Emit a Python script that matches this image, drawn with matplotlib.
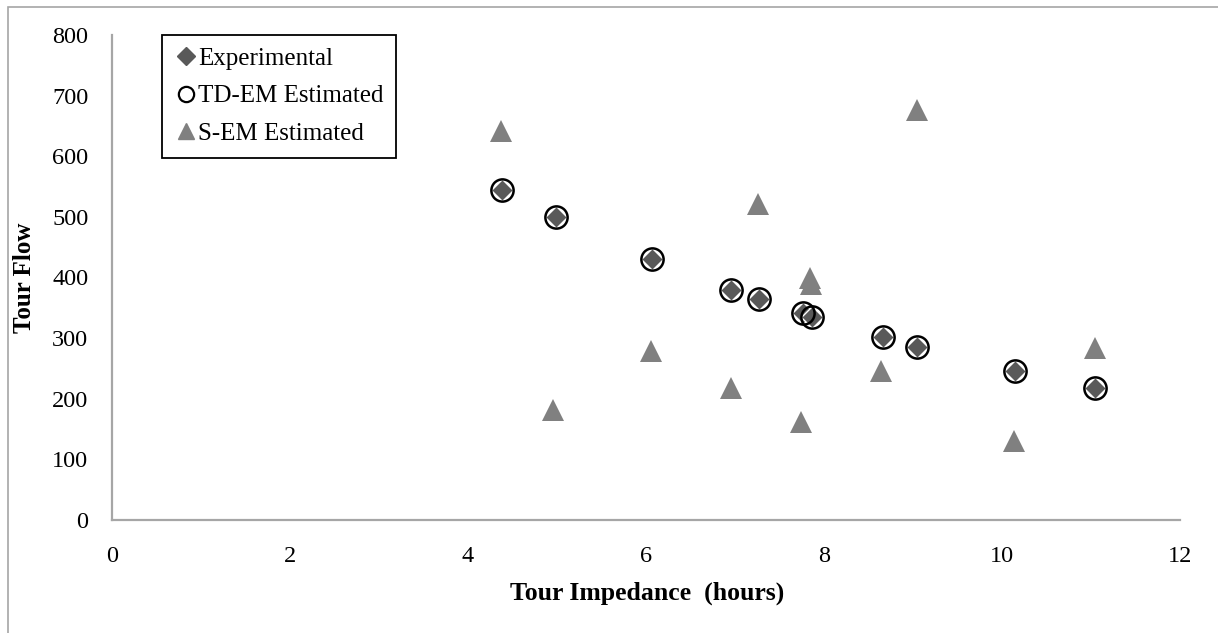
"""Tour flow vs. tour impedance: experimental, TD-EM and S-EM estimates."""

import matplotlib
matplotlib.use("Agg")
import matplotlib.pyplot as plt
from matplotlib.lines import Line2D
from matplotlib.patches import Rectangle

# experimental points (TD-EM estimates sit on top of them)
exp_hours = [4.38, 4.99, 6.07, 6.96, 7.27, 7.76, 7.87, 8.66, 9.05, 10.15, 11.05]
exp_flow = [545, 500, 430, 380, 365, 342, 335, 302, 286, 246, 217]

td_hours = [4.38, 4.99, 6.07, 6.96, 7.27, 7.76, 7.87, 8.66, 9.05, 10.15, 11.05]
td_flow = [545, 500, 430, 380, 365, 342, 335, 302, 286, 246, 217]

sem_hours = [4.37, 4.96, 6.06, 6.95, 7.26, 7.74, 7.84, 7.85, 8.64, 9.04, 10.14, 11.04]
sem_flow = [641, 182, 279, 218, 522, 162, 400, 390, 245, 676, 131, 283]

x_ticks = [0, 2, 4, 6, 8, 10, 12]
y_ticks = [0, 100, 200, 300, 400, 500, 600, 700, 800]

DIAMOND = "#595959"
TRIANGLE = "#808080"
AXIS_GRAY = "#a6a6a6"

plt.rcParams.update({
    "font.family": ["Liberation Serif", "DejaVu Serif"],
    "font.size": 17.5,
})

W, H = 1218, 633
fig = plt.figure(figsize=(W / 100, H / 100), dpi=100)
ax = fig.add_axes([112 / W, 1 - 520 / H, 1068 / W, 485 / H])

ax.plot(exp_hours, exp_flow, linestyle="none", marker="D", markersize=11,
        color=DIAMOND, markeredgecolor="white", markeredgewidth=1.0, zorder=3)
ax.plot(td_hours, td_flow, linestyle="none", marker="o", markersize=16,
        markerfacecolor="none", markeredgecolor="black", markeredgewidth=1.8, zorder=4)
ax.plot(sem_hours, sem_flow, linestyle="none", marker="^", markersize=16,
        color=TRIANGLE, markeredgewidth=0, zorder=5)

ax.set_xlim(0, 12)
ax.set_ylim(0, 800)
ax.set_xticks(x_ticks)
ax.set_yticks(y_ticks)
ax.tick_params(axis="both", length=0)
ax.tick_params(axis="y", pad=17)
ax.tick_params(axis="x", pad=19)
for side in ("top", "right"):
    ax.spines[side].set_visible(False)
for side in ("left", "bottom"):
    ax.spines[side].set_color(AXIS_GRAY)
    ax.spines[side].set_linewidth(1.6)

fig.text(647 / W, 1 - 593 / H, "Tour Impedance  (hours)", ha="center", va="center",
         fontweight="bold", fontsize=18.5)
fig.text(25 / W, 1 - 278 / H, "Tour Flow", ha="center", va="center", rotation=90,
         fontweight="bold", fontsize=18)

handles = [
    Line2D([], [], linestyle="none", marker="D", markersize=9, color=DIAMOND),
    Line2D([], [], linestyle="none", marker="o", markersize=11,
           markerfacecolor="none", markeredgecolor="black", markeredgewidth=1.6),
    Line2D([], [], linestyle="none", marker="^", markersize=12, color=TRIANGLE),
]
leg = ax.legend(handles, ["Experimental", "TD-EM Estimated", "S-EM Estimated"],
                loc="upper left", bbox_to_anchor=((162 - 112) / 1068, 1.0),
                borderaxespad=0, borderpad=0.5, handlelength=0.9, handletextpad=0.05,
                labelspacing=0.6, fancybox=False, framealpha=1, fontsize=18)
leg.get_frame().set_edgecolor("black")
leg.get_frame().set_linewidth(1.3)

# thin grey frame round the whole chart
fig.patches.append(Rectangle((8 / W, -0.05), 1.1, 1 - 7 / H + 0.05, transform=fig.transFigure,
                             fill=False, edgecolor=AXIS_GRAY, linewidth=1.2))

fig.savefig("out.png", dpi=100)
